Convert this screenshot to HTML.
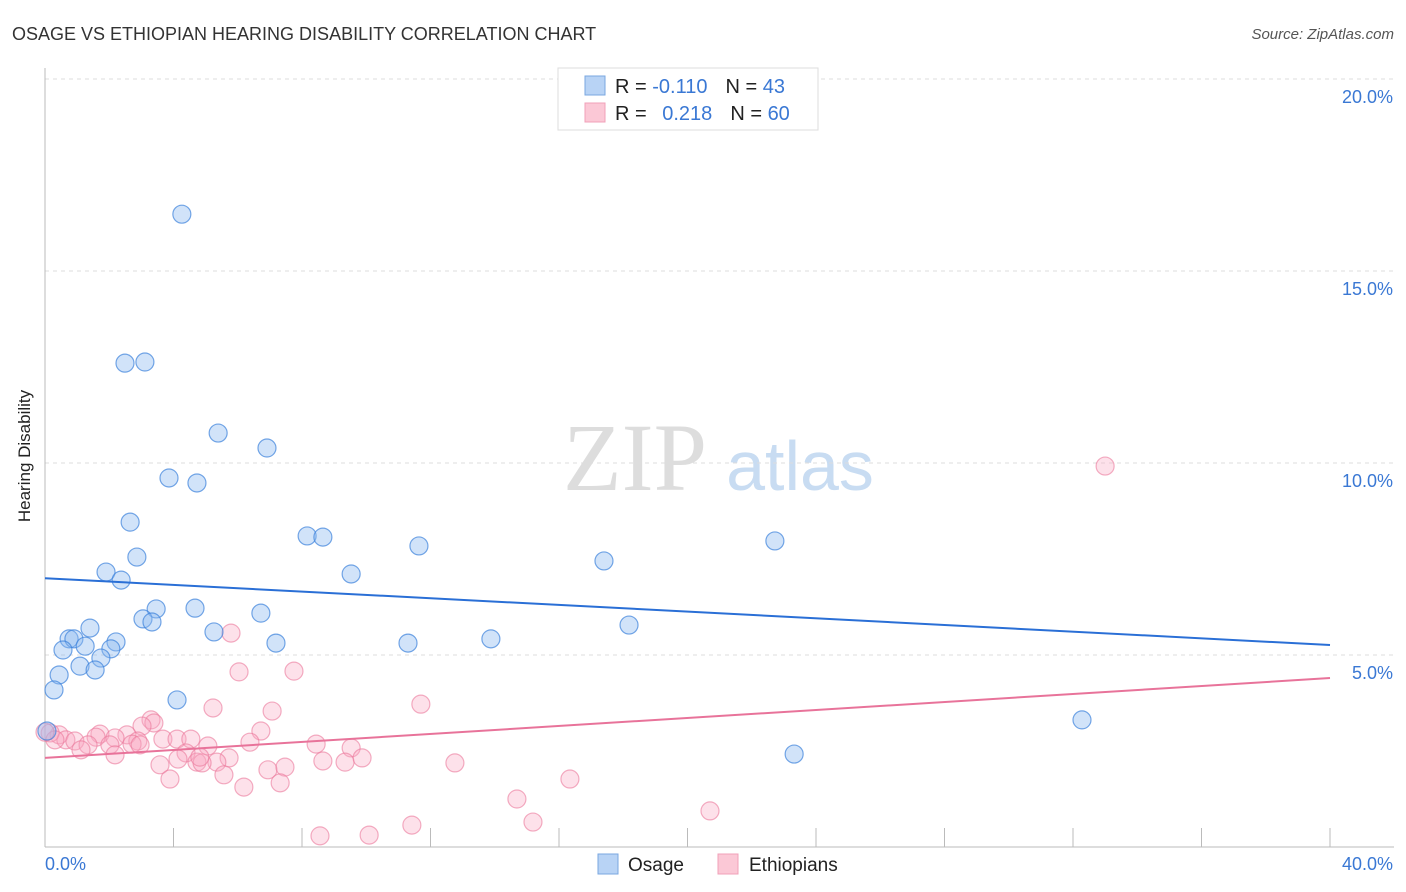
<!DOCTYPE html>
<html><head><meta charset="utf-8"><style>
body{margin:0;background:#fff;font-family:"Liberation Sans",sans-serif;}
svg{display:block}
</style></head><body>
<svg id="chart" width="1406" height="892">
<text x="12" y="40" font-size="18" fill="#333">OSAGE VS ETHIOPIAN HEARING DISABILITY CORRELATION CHART</text>
<text x="1394" y="39" font-size="15" fill="#555" font-style="italic" text-anchor="end">Source: ZipAtlas.com</text>
<text x="30" y="456" font-size="17" fill="#222" text-anchor="middle" transform="rotate(-90 30 456)">Hearing Disability</text>
<g><text x="635" y="490" font-size="96" font-family="Liberation Serif" fill="#ddd" text-anchor="middle">ZIP</text><text x="800" y="490" font-size="70" fill="#c8dcf2" text-anchor="middle">atlas</text></g>
<g id="grid"></g><g id="axes"></g><g id="pts"></g><g id="lines"></g>
<g>
<rect x="558" y="68" width="260" height="62" fill="#fff" stroke="#ddd"/>
<rect x="585" y="76" width="20" height="19" fill="#b8d3f5" stroke="#7aa7e0"/>
<rect x="585" y="103" width="20" height="19" fill="#fbc8d6" stroke="#f0a0b8"/>
<text x="615" y="93" font-size="20" fill="#222">R = <tspan fill="#3a78d4">-0.110</tspan><tspan dx="18">N = </tspan><tspan fill="#3a78d4">43</tspan></text>
<text x="615" y="120" font-size="20" fill="#222">R = <tspan fill="#3a78d4" dx="10">0.218</tspan><tspan dx="18">N = </tspan><tspan fill="#3a78d4">60</tspan></text>
</g>
<g>
<rect x="598" y="854" width="20" height="20" fill="#b8d3f5" stroke="#7aa7e0"/>
<text x="628" y="871" font-size="19" fill="#222">Osage</text>
<rect x="718" y="854" width="20" height="20" fill="#fbc8d6" stroke="#f0a0b8"/>
<text x="749" y="871" font-size="19" fill="#222">Ethiopians</text>
</g>
</svg>
<script>
const blueX=[4.26,2.49,3.11,5.39,6.91,3.86,4.73,2.65,8.16,8.65,11.64,22.72,2.86,17.40,1.90,2.37,9.53,4.67,3.46,6.72,3.05,3.33,5.26,18.18,1.40,0.75,0.90,13.88,11.30,2.21,7.19,1.25,0.56,2.05,1.74,1.09,1.56,0.44,0.28,4.11,32.28,23.32,0.06];
const blueY=[16.48,12.6,12.63,10.78,10.39,9.61,9.48,8.46,8.1,8.07,7.84,7.97,7.55,7.45,7.16,6.95,7.11,6.22,6.2,6.09,5.94,5.86,5.6,5.78,5.7,5.42,5.42,5.42,5.31,5.34,5.31,5.23,5.13,5.16,4.92,4.71,4.61,4.48,4.09,3.83,3.31,2.42,3.02];
const pinkX=[33.0,5.79,7.75,6.04,11.70,5.23,7.07,3.30,3.39,3.02,6.72,1.71,2.55,1.59,2.18,2.89,3.67,4.11,4.54,0.44,0.65,0.93,1.34,2.02,1.12,2.71,5.07,6.38,8.44,9.53,4.39,5.73,4.73,5.35,9.34,9.87,8.65,3.58,4.14,4.89,12.76,6.94,7.47,3.89,5.57,16.34,6.19,7.32,14.69,20.70,15.19,11.42,8.56,10.09,0.16,0.31,0.0,2.18,2.96,4.82];
const pinkY=[9.92,5.57,4.58,4.56,3.72,3.62,3.54,3.31,3.23,3.15,3.02,2.94,2.92,2.86,2.84,2.76,2.81,2.81,2.81,2.92,2.79,2.76,2.66,2.66,2.53,2.68,2.63,2.73,2.68,2.58,2.45,2.32,2.21,2.21,2.21,2.32,2.24,2.14,2.29,2.19,2.19,2.01,2.08,1.77,1.88,1.77,1.56,1.67,1.25,0.94,0.65,0.57,0.29,0.31,2.97,2.79,2.99,2.40,2.66,2.34];
const blueLine=[7.0,5.26];
const pinkLine=[2.32,4.40];
const yTicks=[5,10,15,20];
const yTickLabels=["5.0%","10.0%","15.0%","20.0%"];
const xTicks=[0,4,8,12,16,20,24,28,32,36,40];

const NS="http://www.w3.org/2000/svg";
const sx=v=>45+v*1285/40;
const sy=v=>847-v*38.4;
function mk(tag,attrs,parent){const e=document.createElementNS(NS,tag);for(const k in attrs)e.setAttribute(k,attrs[k]);document.getElementById(parent).appendChild(e);return e;}
yTicks.forEach((t,i)=>{
  const l=mk('line',{x1:45,x2:1394,y1:sy(t),y2:sy(t),stroke:'#ddd','stroke-dasharray':'4,4'},'grid');
  
  
  const tx=mk('text',{x:1393,y:sy(t)+24,'font-size':18,fill:'#3a78d4','text-anchor':'end'},'grid');
  tx.textContent=yTickLabels[i];
  
  
});
const ax=mk('line',{x1:45,x2:45,y1:68,y2:847,stroke:'#bbb'},'axes');


const bx=mk('line',{x1:45,x2:1394,y1:847,y2:847,stroke:'#bbb'},'axes');


xTicks.slice(1).forEach(t=>{
  const l=mk('line',{x1:sx(t),x2:sx(t),y1:828,y2:847,stroke:'#bbb'},'axes');
  
  
});
const x0=mk('text',{x:45,y:870,'font-size':18,fill:'#3a78d4'},'axes');x0.textContent='0.0%';


const x1=mk('text',{x:1393,y:870,'font-size':18,fill:'#3a78d4','text-anchor':'end'},'axes');x1.textContent='40.0%';


pinkX.forEach((x,i)=>{
  const c=mk('circle',{cx:sx(x),cy:sy(pinkY[i]),r:9,fill:'rgba(248,170,195,0.35)',stroke:'rgba(235,120,155,0.6)','stroke-width':1.2},'pts');
  
  
});
blueX.forEach((x,i)=>{
  const c=mk('circle',{cx:sx(x),cy:sy(blueY[i]),r:9,fill:'rgba(140,185,240,0.4)',stroke:'rgba(60,130,220,0.7)','stroke-width':1.2},'pts');
  
  
});
const bl=mk('line',{x1:sx(0),y1:sy(blueLine[0]),x2:sx(40),y2:sy(blueLine[1]),stroke:'#2a6fd6','stroke-width':2},'lines');


const pl=mk('line',{x1:sx(0),y1:sy(pinkLine[0]),x2:sx(40),y2:sy(pinkLine[1]),stroke:'#e8739a','stroke-width':2},'lines');


</script>
</body></html>
